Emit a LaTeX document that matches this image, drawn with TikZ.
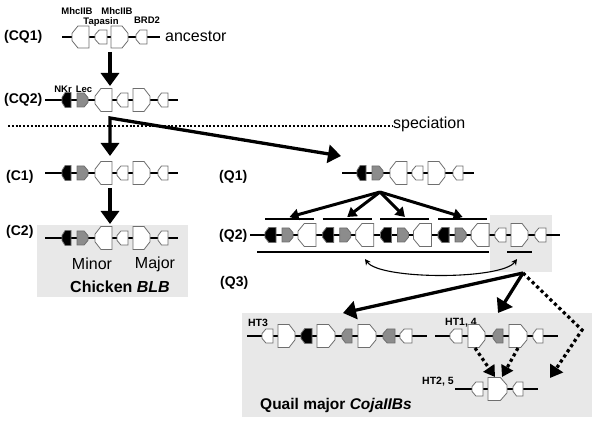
\documentclass[tikz,border=0pt]{standalone}
\usepackage{fontspec}
\setmainfont{Liberation Sans}
\usepackage{tikz}
\usetikzlibrary{arrows.meta}
\definecolor{boxgray}{HTML}{E8E8E8}
\definecolor{edge}{HTML}{6E6E6E}
\definecolor{lecgray}{HTML}{8C8C8C}
\tikzset{
  chrom/.style={draw=black, line width=2.4pt},
  gene/.style={draw=edge, line width=0.8pt, line join=miter},
  bar/.style={draw=black, line width=2.6pt},
  shade/.style={fill=boxgray},
  big/.style={-{Triangle[length=13pt,width=18pt]}, line width=3.3pt},
  fan/.style={-{Triangle[length=9pt,width=11pt]}, line width=3pt},
  swap/.style={{Stealth[length=6pt,width=6pt]}-{Stealth[length=6pt,width=6pt]}, line width=1.1pt},
  dots/.style={line width=3.2pt, dash pattern=on 3.2pt off 3pt},
  row/.style={font=\fontsize{14}{16}\selectfont\bfseries, inner sep=0pt},
  tag/.style={font=\fontsize{9.5}{10}\selectfont\bfseries, inner sep=0pt,
    anchor=base, text height=6.8pt, text depth=1.8pt},
  word/.style={font=\fontsize{16}{18}\selectfont, inner sep=0pt},
}
% one gene: pointed end, flat end, y, half height, fill
\newcommand{\gene}[5]{%
  \draw[gene,fill=#5] ({#1},{(#3)-(#4)/3}) -- ({(#1)+0.35*((#2)-(#1))},{(#3)-(#4)})
    -- ({#2},{(#3)-(#4)}) -- ({#2},{(#3)+(#4)})
    -- ({(#1)+0.35*((#2)-(#1))},{(#3)+(#4)}) -- ({#1},{(#3)+(#4)/3}) -- cycle;}
% six genes of the BLB, shifted by #1, at height #2
\newcommand{\blb}[2]{%
  \foreach \p/\q/\h/\f in {62/71/7.5/black, 88/77/7/lecgray, 95/112/11.5/white,
      117/128/7/white, 150/133/11.5/white, 158/168/7/white}
    \gene{#1+\p}{#1+\q}{#2}{\h}{\f};}

\begin{document}
\begin{tikzpicture}[x=1pt,y=-1pt]
  \useasboundingbox (0,0) rectangle (600,435);
  \fill[shade] (37,225) rectangle (188,297);
  \fill[shade] (490,215) rectangle (552,272);
  \fill[shade] (242,313) rectangle (592,417);

  % ancestor
  \node[row,anchor=west] (cq1) at (4,37) {(CQ1)};
  \draw[chrom] (62,37) -- (160,37);
  \gene{72}{89}{37}{11}{white}
  \gene{95}{107}{37}{7}{white}
  \gene{128}{111}{37}{11}{white}
  \gene{136}{147}{37}{7}{white}
  \node[tag,text depth=0pt] (mhc1) at (77,15) {MhcIIB};
  \node[tag] (tap) at (101,24.5) {Tapasin};
  \node[tag,text depth=0pt] (mhc2) at (117,15) {MhcIIB};
  \node[tag] (brd) at (147,24) {BRD2};
  \node[word,anchor=west] (anc) at (165,36) {ancestor};

  \coordinate (a1) at (110,52);
  \coordinate (a2) at (110,86);
  \draw[big] (a1) -- (a2);

  \node[row,anchor=west] (cq2) at (4,100) {(CQ2)};
  \draw[chrom] (45,100) -- (178,100);
  \blb{0}{100}
  \node[tag] (nkr) at (63,93) {NKr};
  \node[tag] (lec) at (84,93) {Lec};

  \draw[line width=2pt, dash pattern=on 2pt off 1.8pt] (8,126) -- (393,126);
  \node[word,anchor=west] (spec) at (393,124) {speciation};

  \coordinate (split) at (110,118);
  \coordinate (c1top) at (110,156);
  \coordinate (q1top) at (341,156);
  \draw[big,{Triangle[length=13pt,width=18pt]}-{Triangle[length=13pt,width=18pt]},line join=miter]
    (c1top) -- (split) -- (q1top);

  % chicken
  \node[row,anchor=west] (c1) at (6,177) {(C1)};
  \draw[chrom] (45,173) -- (178,173);
  \blb{0}{173}
  \coordinate (b1) at (110,188);
  \coordinate (b2) at (110,224);
  \draw[big] (b1) -- (b2);

  \node[row,anchor=west] (c2) at (6,232) {(C2)};
  \draw[chrom] (45,238) -- (178,238);
  \blb{0}{238}
  \node[word] (minor) at (92,264) {Minor};
  \node[word] (major) at (155,264) {Major};
  \node[word,font=\fontsize{16}{18}\selectfont\bfseries] (chick) at (120,287) {Chicken \textit{BLB}};

  % quail
  \node[row,anchor=west] (q1) at (219,177) {(Q1)};
  \draw[chrom] (342,173) -- (474,173);
  \blb{295}{173}
  \coordinate (apex) at (380,192);
  \foreach \s [count=\i] in {265,322.7,380.4,438.1} {
    \coordinate (o\i) at (\s+24.5,217);
    \draw[fan] (apex) -- (o\i);
  }

  \node[row,anchor=west] (q2) at (219,236) {(Q2)};
  \draw[chrom] (250,235) -- (560,235);
  \foreach \s in {265,322.7,380.4,438.1} {
    \draw[bar] (\s,219) -- (\s+49,219);
    \gene{\s}{\s+11}{235}{7.5}{black}
    \gene{\s+28}{\s+17}{235}{7}{lecgray}
    \gene{\s+33}{\s+51}{235}{11.5}{white}
  }
  \gene{495}{506}{235}{7}{white}
  \gene{528}{511}{235}{11.5}{white}
  \gene{535}{546}{235}{7}{white}
  \draw[bar] (257,252) -- (489,252);
  \draw[bar] (507,252) -- (532,252);
  \coordinate (s1) at (365,259);
  \coordinate (s2) at (517,259);
  \draw[swap] (s1) .. controls (380,280) and (502,280) .. (s2);

  \coordinate (top) at (523,273);
  \coordinate (h3) at (343,313);
  \coordinate (h14) at (498,313);
  \coordinate (bend) at (582,330);
  \coordinate (h25) at (550,378);
  \draw[big] (top) -- (h3);
  \draw[big] (top) -- (h14);
  \draw[dots,-{Triangle[length=12pt,width=15pt]},line join=miter] (top) -- (bend) -- (h25);

  \node[row,anchor=west] (q3) at (220,283) {(Q3)};
  \node[tag,font=\fontsize{10.5}{11}\selectfont\bfseries] (ht3) at (258,327) {HT3};
  \draw[chrom] (247,336) -- (427,336);
  \foreach \p/\q/\h/\f in {262/273/7/white, 295/278/11.5/white, 301/312/7.5/black,
      335/317/11.5/white, 342/352/7/lecgray, 376/358/11.5/white,
      383/395/7/lecgray, 400/412/7/white}
    \gene{\p}{\q}{336}{\h}{\f};

  \node[tag,font=\fontsize{10.5}{11}\selectfont\bfseries] (ht14) at (461,326) {HT1, 4};
  \draw[chrom] (435,336) -- (558,336);
  \foreach \p/\q/\h/\f in {450/462/7/white, 485/468/11.5/white, 493/503/7/lecgray,
      527/509/11.5/white, 533/543/7/white}
    \gene{\p}{\q}{336}{\h}{\f};

  \node[tag,font=\fontsize{10.5}{11}\selectfont\bfseries] (ht25) at (438,385) {HT2, 5};
  \draw[chrom] (455,389) -- (538,389);
  \foreach \p/\q/\h/\f in {472/483/7/white, 507/488/11.5/white, 513/523/7/white}
    \gene{\p}{\q}{389}{\h}{\f};

  \coordinate (d1) at (475,348);
  \coordinate (d2) at (495,377);
  \coordinate (d3) at (518,348);
  \coordinate (d4) at (502,377);
  \draw[dots,-{Triangle[length=11pt,width=13pt]}] (d1) -- (d2);
  \draw[dots,-{Triangle[length=11pt,width=13pt]}] (d3) -- (d4);

  \node[word,font=\fontsize{15.5}{18}\selectfont\bfseries] (quail) at (336,405) {Quail major \textit{CojaIIBs}};
\end{tikzpicture}
\end{document}
